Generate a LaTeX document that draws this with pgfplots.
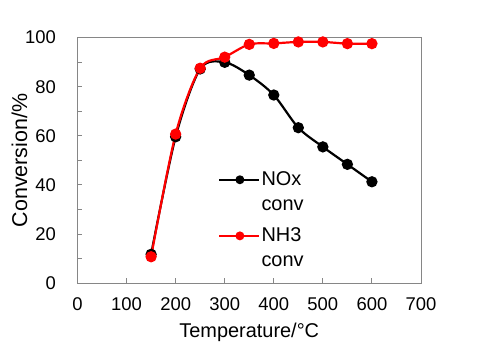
\documentclass[border=0pt]{standalone}
\usepackage{pgfplots}
\pgfplotsset{compat=1.18}
\usepackage{fontspec}
\setmainfont{Liberation Sans}
\definecolor{axgray}{HTML}{868686}
\begin{document}
\begin{tikzpicture}
\path[use as bounding box] (0,0) rectangle (478bp,358bp);
\begin{axis}[
  at={(77.5bp,74.7bp)}, anchor=south west,
  width=343.5bp, height=245.8bp, scale only axis,
  xmin=0, xmax=700, ymin=0, ymax=100,
  xtick={0,100,...,700}, ytick={0,20,...,100},
  minor ytick={10,30,...,90},
  tick align=inside,
  major tick length=5bp, minor tick length=5bp,
  xtick pos=bottom, ytick pos=left,
  axis line style={axgray, line width=1bp},
  every tick/.style={axgray, line width=1bp},
  every minor tick/.style={axgray, line width=1bp},
  /pgf/number format/assume math mode=true,
  /pgf/number format/1000 sep={},
  font=\fontsize{18.5}{22}\selectfont,
  ticklabel style={font=\fontsize{18.5}{22}\selectfont},
  yticklabel style={xshift=-18bp},
  xticklabel style={yshift=-10.5bp},
  xlabel={Temperature/°C},
  ylabel={Conversion/\%},
  xlabel style={at={(axis description cs:0.5,-0.2225)}, anchor=base, font=\fontsize{20}{24}\selectfont},
  ylabel style={at={(axis description cs:-0.147,0.5)}, anchor=base, font=\fontsize{21.5}{25}\selectfont},
  legend cell align=left,
  legend image code/.code={\draw[mark repeat=2,mark phase=2,mark size=3.3bp,#1] plot coordinates {(0bp,12.3bp) (20.5bp,12.3bp) (39.5bp,12.3bp)};},
  legend style={at={(axis description cs:0.4099,0.4654)}, anchor=north west,
    draw=none, fill=none, inner sep=0pt, outer sep=0pt,
    font=\fontsize{20}{25}\selectfont,
    nodes={align=left, inner xsep=1.5bp, inner ysep=3bp}, row sep=9.8bp, column sep=0pt},
]
\addplot[black, line width=2.2bp, smooth, mark=*, mark size=4.5bp, mark options={fill=black}]
coordinates {(150,11.8) (200,59.6) (250,87.2) (300,89.9) (350,84.7) (400,76.6) (450,63.3) (500,55.5) (550,48.4) (600,41.3)};
\addlegendentry{NOx\\conv}
\addplot[red, line width=2.2bp, smooth, mark=*, mark size=4.5bp, mark options={fill=red}]
coordinates {(150,10.8) (200,60.7) (250,87.5) (300,92.0) (350,97.2) (400,97.6) (450,98.2) (500,98.2) (550,97.5) (600,97.5)};
\addlegendentry{NH3\\conv}
\end{axis}
\end{tikzpicture}
\end{document}
